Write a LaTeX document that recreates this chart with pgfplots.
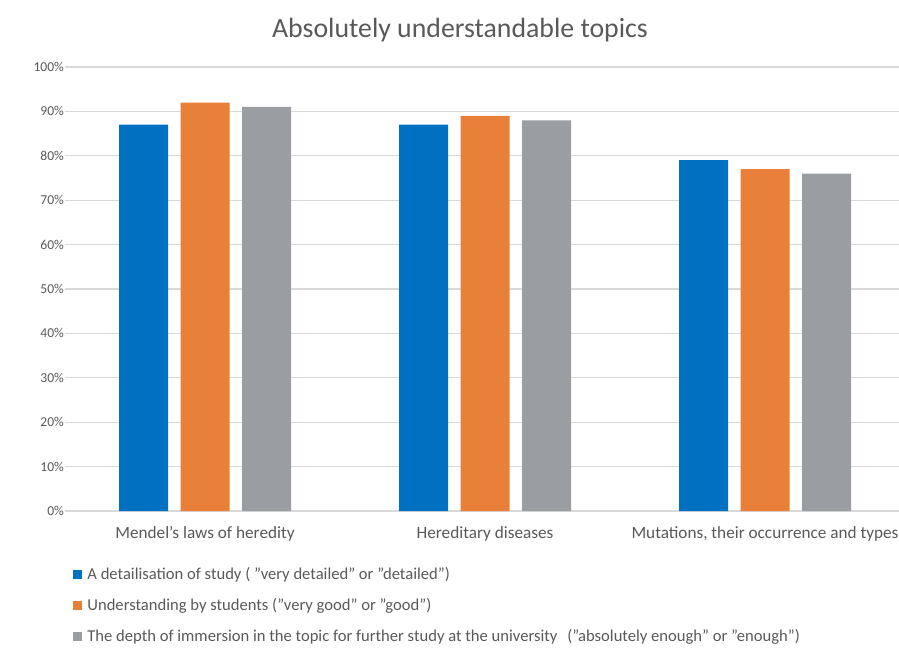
\documentclass[border=0pt]{standalone}
\usepackage{pgfplots}
\pgfplotsset{compat=1.18}
\usepackage{fontspec}
% no TeX mapping, so that " and ' stay straight as in the original
\setmainfont{Carlito}[Ligatures=ResetAll]

\definecolor{barblue}{HTML}{0070C0}
\definecolor{barorange}{HTML}{E8803A}
\definecolor{bargray}{HTML}{9A9EA2}
\definecolor{gridgray}{HTML}{D9D9D9}
\definecolor{txtgray}{HTML}{595959}

\begin{document}
\begin{tikzpicture}
\begin{axis}[
    at={(32.5pt,68.5pt)}, anchor=south west,
    scale only axis,
    width=420pt, height=222pt,
    xmin=-0.5, xmax=2.5,
    ymin=0, ymax=100,
    ybar=6.25pt, bar width=24.5pt,
    axis line style={draw=none},
    xtick={0,1,2},
    xticklabels={Mendel's laws of heredity, Hereditary diseases, {Mutations, their occurrence and types}},
    x tick label style={font=\fontsize{8.6}{10}\selectfont, text=txtgray, yshift=-4pt},
    ytick={0,10,...,100},
    yticklabel={\pgfmathprintnumber{\tick}\%},
    y tick label style={font=\fontsize{6.8}{8}\selectfont, text=txtgray, xshift=3pt},
    /pgf/number format/assume math mode=true,
    major tick length=0pt,
    ymajorgrids=true,
    grid style={gridgray, line width=0.6pt},
    legend cell align=left,
    legend image code/.code={\fill[#1] (0pt,-2.25pt) rectangle (4.5pt,2.25pt);},
    legend style={at={(axis description cs:0,0)}, anchor=north west,
        xshift=4pt, yshift=-28pt, draw=none, fill=none, inner sep=0pt,
        row sep=8pt, column sep=2.5pt,
        font=\fontsize{8.3}{9}\selectfont, text=txtgray,
        nodes={inner sep=0pt, text height=6pt, text depth=1.5pt}},
]
\addplot[draw=none, fill=barblue] coordinates {(0,87) (1,87) (2,79)};
\addplot[draw=none, fill=barorange] coordinates {(0,92) (1,89) (2,77)};
\addplot[draw=none, fill=bargray] coordinates {(0,91) (1,88) (2,76)};
\legend{A detailisation of study ( "very detailed" or "detailed"),
        Understanding by students ("very good" or "good"),
        The depth of immersion in the topic for further study at the university\hspace{0.6em}("absolutely enough" or "enough")}
\end{axis}
\node[text=txtgray, font=\fontsize{13.9}{16}\selectfont] at (230pt,309pt) {Absolutely understandable topics};
\pgfresetboundingbox
\path[use as bounding box] (0,0) rectangle (449.5pt,324pt);
\end{tikzpicture}
\end{document}
